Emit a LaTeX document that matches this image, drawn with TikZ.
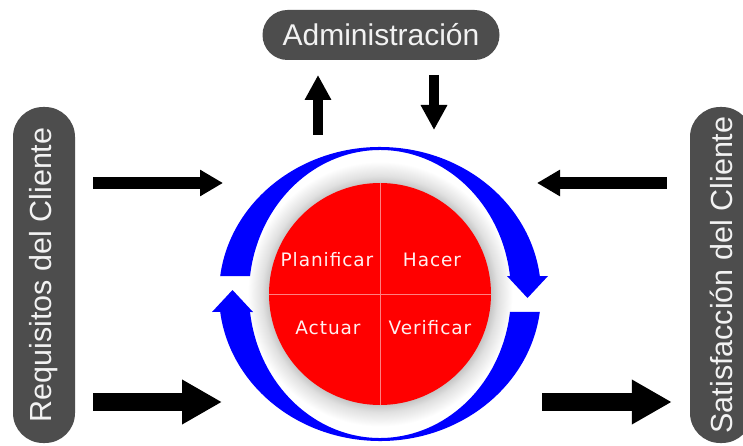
\documentclass[tikz,border=0pt]{standalone}
\usepackage{fontspec}
\setmainfont{Liberation Sans}
\newfontfamily\pdcafont[LetterSpace=5]{DejaVu Sans}
\usepackage{tikz}
\usetikzlibrary{arrows.meta, positioning, calc}
\definecolor{boxgray}{HTML}{4D4D4D}
\definecolor{boxtext}{HTML}{F2F2F2}
\definecolor{cyclered}{HTML}{FF0000}
\definecolor{cycleblue}{HTML}{0000FF}
\definecolor{quadline}{HTML}{FF8080}
\pgfdeclareradialshading{glow}{\pgfpoint{0bp}{0bp}}{%
  color(0bp)=(black!22); color(19.3bp)=(black!22); color(20.5bp)=(black!12); color(23bp)=(white); color(50bp)=(white)}
\tikzset{
  sidebox/.style={
    rectangle, rounded corners=30pt, fill=boxgray, text=boxtext,
    minimum width=336pt, minimum height=62pt, inner sep=0pt,
    font=\fontsize{30.5}{36}\selectfont, rotate=90,
  },
  topbox/.style={
    rectangle, rounded corners=25pt, fill=boxgray, text=boxtext,
    minimum width=237pt, minimum height=50pt, inner sep=0pt,
    font=\fontsize{30}{36}\selectfont,
  },
  pdca/.style={
    circle, fill=cyclered, minimum size=222pt, inner sep=0pt,
  },
  pdcalabel/.style={text=red!6!white, font=\pdcafont\fontsize{18.5}{22}\selectfont},
  quad/.style={draw=quadline, line width=0.8pt},
  thinarrow/.style={line width=12pt, -{Triangle[length=23pt, width=25pt]}},
  thickarrow/.style={line width=18pt, -{Triangle[length=40pt, width=42pt]}},
  smallarrow/.style={line width=10pt, -{Triangle[length=25pt, width=25pt]}},
}

\begin{document}
\begin{tikzpicture}[x=1pt,y=1pt]
  \useasboundingbox (0,0) rectangle (743,445);
  \clip (0,0) rectangle (743,445);
  \fill[white] (0,0) rectangle (743,445);
  % boxes
  \node[topbox] (admin) at (381,410) {Administración};
  \node[sidebox] (req) at (44,170) {Requisitos del Cliente};
  \node[sidebox] (sat) at (721,170) {Satisfacción del Cliente};
  % cycle
  \coordinate (c) at (380,151);
  \shade[shading=glow] (c) circle (144);
  \foreach \a in {0,180}
    \fill[cycleblue, shift={(c)}, rotate=\a]
      (173:161 and 147) arc[start angle=173, end angle=7, x radius=161, y radius=147]
      -- (168,18) -- (147.5,-4) -- (127,18)
      -- (7.18:131 and 144) arc[start angle=7.18, end angle=172.82, x radius=131, y radius=144]
      -- cycle;
  \node[pdca] (pdca) at (c) {};
  \draw[quad] (pdca.north) -- (pdca.south);
  \draw[quad] (pdca.west) -- (pdca.east);
  \node[pdcalabel] (plan) at ($(pdca)+(-53,34)$) {Planificar};
  \node[pdcalabel] (do) at ($(pdca)+(52,34)$) {Hacer};
  \node[pdcalabel] (act) at ($(pdca)+(-52,-34)$) {Actuar};
  \node[pdcalabel] (check) at ($(pdca)+(50,-34)$) {Verificar};
  % arrow ends
  \coordinate (upfoot) at (318,310);
  \coordinate (uptip) at (318,370);
  \coordinate (downfoot) at (434,370);
  \coordinate (downtip) at (434,315);
  \coordinate (reqin) at (223,262);
  \coordinate (reqout) at (222,43);
  \coordinate (satin) at (537,262);
  \coordinate (satout) at (542,43);
  \draw[smallarrow] (upfoot) -- (uptip);
  \draw[smallarrow] (downfoot) -- (downtip);
  \draw[thinarrow] ([xshift=18pt]req.south |- reqin) -- (reqin);
  \draw[thickarrow] ([xshift=18pt]req.south |- reqout) -- (reqout);
  \draw[thinarrow] ([xshift=-23pt]sat.north |- satin) -- (satin);
  \draw[thickarrow] (satout) -- ([xshift=-18pt]sat.north |- satout);
\end{tikzpicture}
\end{document}
